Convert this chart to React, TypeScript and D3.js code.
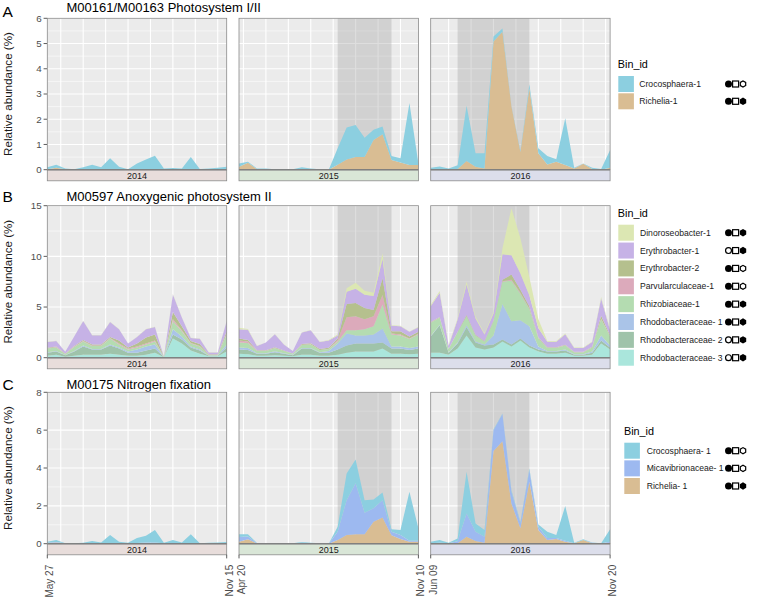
import React from "react";
import * as d3 from "d3";

// ---------- shared facet info ----------
const years = ["2014", "2015", "2016"];
const startDates = ["May 27", "Apr 20", "Jun 09"];
const endDates = ["Nov 15", "Nov 10", "Nov 20"];
const stripFills = ["#e8dddb", "#d9e6d7", "#dcdeeb"];
const shadeFrom: (number | null)[] = [null, 11, 3];
const shadeTo: (number | null)[] = [null, 17, 11];
const gridStart = [1.5, 0.5, 2];
const N = 21;

// ---------- Panel A: M00161/M00163 Photosystem I/II ----------
const photoBins = ["Crocosphaera-1", "Richelia-1"];
const photoSymbols = ["●□⬡", "●□⬢"];
const photoColors = ["#8ccfe0", "#d9bd93"];
const photoCrocosphaera = [
  [0.08, 0.12, 0.03, 0.02, 0.1, 0.2, 0.1, 0.45, 0.12, 0.02, 0.25, 0.4, 0.55, 0.05, 0.07, 0.05, 0.5, 0.03, 0.05, 0.08, 0.12],
  [0.13, 0.04, 0.03, 0.04, 0.02, 0.02, 0.02, 0.08, 0.04, 0.02, 0, 0.65, 1.27, 1.27, 0.77, 0.4, 0.31, 0.16, 0.16, 2.45, 0.06],
  [0.08, 0.13, 0.05, 0.15, 2.19, 0.53, 0.6, 0.2, 0.13, 0.02, 0.05, 0.16, 0.2, 0.33, 0.09, 1.85, 0.03, 0.01, 0.05, 0.03, 0.7],
];
const photoRichelia = [
  [0.02, 0.08, 0.02, 0, 0, 0, 0, 0, 0, 0, 0, 0, 0, 0, 0, 0, 0, 0, 0, 0, 0],
  [0.12, 0.28, 0.02, 0.01, 0, 0, 0, 0.02, 0.01, 0, 0, 0.2, 0.4, 0.5, 0.5, 1.18, 1.4, 0.38, 0.29, 0.19, 0.19],
  [0, 0, 0, 0.03, 0.34, 0.12, 0.05, 5.08, 5.47, 2.5, 0.7, 3.23, 0.65, 0.21, 0.32, 0.19, 0.05, 0.24, 0.03, 0, 0.08],
];

// ---------- Panel B: M00597 Anoxygenic photosystem II ----------
const anoxBins = [
  "Dinoroseobacter-1", "Erythrobacter-1", "Erythrobacter-2", "Parvularculaceae-1",
  "Rhizobiaceae-1", "Rhodobacteraceae- 1", "Rhodobacteraceae- 2", "Rhodobacteraceae- 3",
];
const anoxSymbols = ["●□⬢", "○□⬢", "●□⬡", "●□⬡", "●□⬢", "●□⬢", "○□⬢", "○□⬢"];
const anoxColors = ["#dce7b3", "#c6b2e6", "#b5c08e", "#dcaabb", "#b4dcb1", "#aac4e8", "#9fc3aa", "#aae6dc"];
const anoxDinoroseobacter1 = [
  [0.02, 0.02, 0.01, 0.02, 0.02, 0.02, 0.02, 0.02, 0.02, 0.02, 0.02, 0.03, 0.03, 0, 0.05, 0.03, 0.02, 0.02, 0.01, 0.01, 0.03],
  [0.15, 0.08, 0.02, 0.02, 0.02, 0.02, 0.01, 0.02, 0.02, 0.02, 0.04, 0.1, 0.35, 0.6, 0.4, 0.3, 0.56, 0.05, 0.05, 0.03, 0.05],
  [0.13, 0.15, 0.07, 0.13, 0.28, 0.18, 0.1, 0.17, 0.6, 4.64, 3.5, 1.8, 0.9, 0.08, 0.08, 0.08, 0.05, 0.05, 0.05, 0.15, 0.08],
];
const anoxErythrobacter1 = [
  [0.59, 0.56, 0.17, 0.93, 1.88, 0.92, 0.92, 1.48, 1.11, 0.39, 0.65, 0.8, 0.73, 0.01, 1.73, 0.87, 0.3, 0.53, 0.19, 0.19, 1.02],
  [0.9, 1.0, 0.43, 0.76, 1.28, 0.58, 0.24, 1.13, 1.28, 0.71, 0.72, 0.3, 1.2, 1.4, 1.3, 1.4, 1.91, 0.55, 0.5, 0.45, 0.45],
  [1.55, 2.4, 0.3, 1.2, 3.0, 1.6, 0.65, 0.7, 2.5, 1.9, 1.6, 1.1, 0.9, 0.55, 0.55, 1.05, 0.37, 0.37, 0.48, 1.7, 0.5],
];
const anoxErythrobacter2 = [
  [0.05, 0.05, 0.02, 0.05, 0.1, 0.1, 0.1, 0.1, 0.3, 0.1, 0.3, 0.6, 0.6, 0, 0.7, 0.4, 0.2, 0.2, 0.05, 0.05, 0.2],
  [0.2, 0.15, 0.05, 0.05, 0.08, 0.05, 0.02, 0.08, 0.1, 0.08, 0.1, 0.15, 1.3, 1.3, 1.1, 0.6, 1.65, 0.2, 0.3, 0.2, 0.2],
  [0.05, 0.05, 0.02, 0.05, 0.1, 0.05, 0.03, 0.05, 0.15, 0.5, 0.3, 0.2, 0.1, 0.05, 0.05, 0.05, 0.02, 0.02, 0.05, 0.3, 0.1],
];
const anoxParvularculaceae1 = [
  [0.02, 0.05, 0.02, 0.05, 0.05, 0.05, 0.05, 0.05, 0.1, 0.1, 0.1, 0.1, 0.1, 0, 0.2, 0.1, 0.05, 0.05, 0.01, 0.01, 0.1],
  [0.2, 0.15, 0.03, 0.03, 0.03, 0.02, 0.01, 0.02, 0.03, 0.02, 0.03, 0.15, 1.3, 1.4, 1.0, 1.0, 0.92, 0.1, 0.1, 0.05, 0.06],
  [0.02, 0.02, 0.01, 0.02, 0.02, 0.02, 0.02, 0.02, 0.05, 0.1, 0.1, 0.05, 0.02, 0.02, 0.02, 0.02, 0.01, 0.01, 0.02, 0.05, 0.02],
];
const anoxRhizobiaceae1 = [
  [0.35, 0.35, 0.1, 0.4, 0.4, 0.3, 0.3, 0.6, 0.3, 0.2, 0.2, 0.2, 0.3, 0.01, 0.8, 0.5, 0.3, 0.3, 0.05, 0.05, 1.0],
  [0.5, 0.5, 0.2, 0.2, 0.3, 0.2, 0.1, 0.3, 0.35, 0.2, 0.2, 0.2, 0.3, 0.5, 0.6, 0.8, 2.37, 1.2, 1.1, 0.9, 1.2],
  [1.3, 0.7, 0.3, 1.0, 0.9, 0.6, 0.3, 1.4, 2.2, 4.0, 2.6, 1.7, 0.8, 0.3, 0.3, 0.4, 0.2, 0.2, 0.4, 1.6, 0.9],
];
const anoxRhodobacteraceae1 = [
  [0.05, 0.05, 0.02, 0.05, 0.1, 0.05, 0.05, 0.1, 0.1, 0.1, 0.3, 0.4, 0.4, 0.01, 0.5, 0.3, 0.1, 0.1, 0.02, 0.02, 0.3],
  [0.2, 0.2, 0.05, 0.05, 0.08, 0.05, 0.03, 0.05, 0.05, 0.05, 0.15, 0.6, 1.2, 0.8, 0.8, 0.9, 1.38, 0.2, 0.2, 0.2, 0.2],
  [0.05, 0.05, 0.05, 0.1, 0.2, 0.1, 0.1, 0.9, 3.5, 2.3, 1.8, 1.9, 0.3, 0.05, 0.05, 0.1, 0.05, 0.05, 0.1, 0.5, 0.2],
];
const anoxRhodobacteraceae2 = [
  [0.3, 0.3, 0.15, 0.4, 0.8, 0.5, 0.5, 0.8, 0.6, 0.3, 0.3, 0.4, 0.4, 0.02, 0.4, 0.4, 0.3, 0.3, 0.05, 0.05, 0.4],
  [0.4, 0.4, 0.2, 0.2, 0.3, 0.2, 0.1, 0.6, 0.6, 0.3, 0.3, 0.5, 0.7, 0.8, 0.8, 0.8, 0.59, 0.5, 0.5, 0.4, 0.5],
  [1.6, 2.7, 0.2, 0.5, 0.8, 0.5, 0.4, 0.3, 0.2, 0.2, 0.2, 0.2, 0.2, 0.2, 0.2, 0.2, 0.1, 0.1, 0.2, 0.3, 0.2],
];
const anoxRhodobacteraceae3 = [
  [0.2, 0.3, 0.1, 0.2, 0.3, 0.3, 0.3, 0.4, 0.3, 0.2, 0.2, 0.3, 0.5, 0.05, 1.9, 1.4, 0.7, 0.4, 0.15, 0.15, 0.6],
  [0.4, 0.35, 0.2, 0.2, 0.25, 0.2, 0.15, 0.3, 0.3, 0.2, 0.2, 0.3, 0.5, 0.6, 0.6, 0.6, 0.92, 0.4, 0.4, 0.35, 0.4],
  [0.5, 0.5, 0.3, 0.9, 2.2, 1.0, 0.8, 1.0, 1.6, 1.1, 1.7, 1.0, 0.6, 0.4, 0.4, 0.5, 0.2, 0.2, 0.3, 1.4, 0.8],
];

// ---------- Panel C: M00175 Nitrogen fixation ----------
const nitroBins = ["Crocosphaera- 1", "Micavibrionaceae- 1", "Richelia- 1"];
const nitroSymbols = ["●□⬡", "●□⬡", "●□⬢"];
const nitroColors = ["#8ccfe0", "#9db9f0", "#d9bd93"];
const nitroCrocosphaera = [
  [0.05, 0.11, 0, 0.01, 0.03, 0.12, 0.05, 0.43, 0.07, 0.03, 0.26, 0.36, 0.66, 0.03, 0.16, 0.05, 0.47, 0.01, 0.03, 0.05, 0.07],
  [0.15, 0.12, 0.01, 0.01, 0.01, 0.01, 0.01, 0.04, 0.02, 0.01, 0, 0.27, 1.41, 1.26, 0.66, 0.47, 0.41, 0.13, 0.26, 2.59, 0.66],
  [0.07, 0.15, 0.03, 0.15, 2.2, 0.44, 0.35, 0.04, 0.03, 0.08, 0.06, 0.08, 0.12, 0.33, 0.16, 1.84, 0.02, 0.03, 0.02, 0.01, 0.66],
];
const nitroMicavibrionaceae = [
  [0.03, 0.03, 0.02, 0.01, 0.02, 0.02, 0.02, 0.03, 0.03, 0.02, 0.04, 0.06, 0.06, 0.02, 0.04, 0.02, 0.03, 0.01, 0.02, 0.02, 0.02],
  [0.25, 0.15, 0.02, 0.01, 0.01, 0.01, 0.01, 0.04, 0.03, 0.02, 0, 0.43, 1.84, 2.69, 1.14, 0.71, 0.91, 0.19, 0.21, 0.06, 0.05],
  [0.03, 0.03, 0.02, 0.1, 1.23, 0.49, 0.32, 1.1, 1.43, 0.62, 0.29, 0.63, 0.18, 0.11, 0.05, 0.05, 0.01, 0.01, 0.02, 0.02, 0.05],
];
const nitroRichelia = [
  [0.02, 0.06, 0.01, 0, 0, 0, 0, 0, 0, 0, 0, 0, 0, 0, 0, 0, 0, 0, 0, 0, 0],
  [0.1, 0.23, 0.01, 0, 0, 0, 0, 0.01, 0, 0, 0, 0.2, 0.46, 0.5, 0.5, 1.16, 1.39, 0.44, 0.25, 0.1, 0.1],
  [0, 0.02, 0, 0.03, 0.37, 0.14, 0.05, 4.9, 5.42, 2.13, 0.81, 3.27, 0.72, 0.19, 0.25, 0.1, 0.02, 0.19, 0.03, 0, 0.05],
];

// ---------- layout ----------
const FONT = "'Liberation Sans', Arial, Helvetica, sans-serif";
const PANEL_X = [47.3, 239, 430.7];
const PANEL_W = 179.4;
const STRIP_H = 10.6;

type RowProps = {
  letter: string;
  title: string;
  top: number;
  zero: number;
  yMax: number;
  yStep: number;
  bins: string[];
  symbols: string[];
  colors: string[];
  series: number[][][];
  showX: boolean;
  legend: { titleX: number; titleY: number; keyX: number; labelX: number; firstY: number; pitch: number };
  letterY: number;
  titleY: number;
};

function hexPoints(cx: number, cy: number, r: number) {
  return d3
    .range(6)
    .map((k) => {
      const a = (Math.PI / 3) * k + Math.PI / 6;
      return [cx + r * Math.cos(a), cy + r * Math.sin(a)].join(",");
    })
    .join(" ");
}

function Symbols({ s, cy }: { s: string; cy: number }) {
  const chars = Array.from(s);
  return (
    <g>
      {chars[0] === "●" ? (
        <circle cx={728.5} cy={cy} r={3.5} fill="#000" />
      ) : (
        <circle cx={728.5} cy={cy} r={2.95} fill="#fff" stroke="#000" strokeWidth={1.2} />
      )}
      <rect x={732.6} y={cy - 3.0} width={6.0} height={6.0} fill="#fff" stroke="#000" strokeWidth={1.2} />
      {chars[2] === "⬢" ? (
        <polygon points={hexPoints(743, cy, 3.7)} fill="#000" />
      ) : (
        <polygon points={hexPoints(743, cy, 3.1)} fill="#fff" stroke="#000" strokeWidth={1.2} />
      )}
    </g>
  );
}

function Row(p: RowProps) {
  const y = d3.scaleLinear().domain([0, p.yMax]).range([p.zero, p.top]);
  const majors = d3.range(0, p.yMax + 1e-9, p.yStep);
  const minors = d3.range(p.yStep / 2, p.yMax, p.yStep);
  const keys = [...p.bins].reverse();
  const colorOf = d3.scaleOrdinal<string, string>().domain(p.bins).range(p.colors);
  const midY = (p.top + p.zero) / 2;

  return (
    <g>
      <text x={2.5} y={p.letterY} fontSize={15.5} fontFamily={FONT} fill="#000">{p.letter}</text>
      <text x={66.5} y={p.titleY} fontSize={13} fontFamily={FONT} fill="#000">{p.title}</text>
      <text
        transform={`translate(11.6, ${midY}) rotate(-90)`}
        textAnchor="middle"
        fontSize={11.6}
        fontFamily={FONT}
        fill="#1a1a1a"
      >
        Relative abundance (%)
      </text>
      {majors.map((v) => (
        <g key={v}>
          <line x1={43.6} x2={PANEL_X[0]} y1={y(v)} y2={y(v)} stroke="#333" strokeWidth={0.8} />
          <text x={41.6} y={y(v)} dy="0.35em" textAnchor="end" fontSize={9.8} fontFamily={FONT} fill="#4d4d4d">
            {v}
          </text>
        </g>
      ))}
      {years.map((yr, pi) => {
        const x0 = PANEL_X[pi];
        const x = d3.scaleLinear().domain([0, N - 1]).range([x0, x0 + PANEL_W]);
        const rows = d3.range(N).map((i) => {
          const o: Record<string, number> = {};
          p.bins.forEach((b, k) => (o[b] = p.series[k][pi][i]));
          return o;
        });
        const stacked = d3.stack<Record<string, number>>().keys(keys)(rows);
        const area = d3
          .area<d3.SeriesPoint<Record<string, number>>>()
          .x((_d, i) => x(i))
          .y0((d) => y(d[0]))
          .y1((d) => y(d[1]));
        const vGrid = d3.range(gridStart[pi], N - 1 + 1e-9, 2.5);
        const sf = shadeFrom[pi];
        const st = shadeTo[pi];
        return (
          <g key={yr}>
            <rect x={x0} y={p.top} width={PANEL_W} height={p.zero - p.top} fill="#ebebeb" />
            {minors.map((v) => (
              <line key={"mi" + v} x1={x0} x2={x0 + PANEL_W} y1={y(v)} y2={y(v)} stroke="#fff" strokeWidth={0.55} />
            ))}
            {majors.map((v) => (
              <line key={"ma" + v} x1={x0} x2={x0 + PANEL_W} y1={y(v)} y2={y(v)} stroke="#fff" strokeWidth={1.1} />
            ))}
            {vGrid.map((v) => (
              <line key={"v" + v} x1={x(v)} x2={x(v)} y1={p.top} y2={p.zero} stroke="#fff" strokeWidth={1.1} />
            ))}
            {sf !== null && st !== null && (
              <rect x={x(sf)} y={p.top} width={x(st) - x(sf)} height={p.zero - p.top} fill="#a3a3a3" opacity={0.36} />
            )}
            {stacked.map((s) => (
              <path key={s.key} d={area(s) || ""} fill={colorOf(s.key)} />
            ))}
            <line x1={x0} x2={x0 + PANEL_W} y1={p.zero} y2={p.zero} stroke="#3f3f3f" strokeWidth={1.1} />
            <rect x={x0} y={p.top} width={PANEL_W} height={p.zero - p.top} fill="none" stroke="#8a8a8a" strokeWidth={0.8} />
            <rect x={x0} y={p.zero + 0.5} width={PANEL_W} height={STRIP_H} fill={stripFills[pi]} stroke="#8a8a8a" strokeWidth={0.8} />
            <text
              x={x0 + PANEL_W / 2}
              y={p.zero + 0.5 + STRIP_H / 2}
              dy="0.35em"
              textAnchor="middle"
              fontSize={9}
              fontFamily={FONT}
              fill="#1a1a1a"
            >
              {yr}
            </text>
            {p.showX &&
              [
                { v: 0, label: startDates[pi] },
                { v: N - 1, label: endDates[pi] },
              ].map((t) => (
                <g key={t.label}>
                  <line
                    x1={x(t.v)}
                    x2={x(t.v)}
                    y1={p.zero + 0.5 + STRIP_H}
                    y2={p.zero + 0.5 + STRIP_H + 3.6}
                    stroke="#333"
                    strokeWidth={0.8}
                  />
                  <text
                    transform={`translate(${x(t.v) + 2.5}, ${p.zero + STRIP_H + 10.5}) rotate(-90)`}
                    textAnchor="end"
                    dy="0.35em"
                    fontSize={10}
                    fontFamily={FONT}
                    fill="#4d4d4d"
                  >
                    {t.label}
                  </text>
                </g>
              ))}
          </g>
        );
      })}
      <text x={p.legend.titleX} y={p.legend.titleY} dy="0.35em" fontSize={10.8} fontFamily={FONT} fill="#000">
        Bin_id
      </text>
      {p.bins.map((b, k) => {
        const cy = p.legend.firstY + k * p.legend.pitch;
        return (
          <g key={b}>
            <rect x={p.legend.keyX} y={cy - 8} width={15.6} height={16} fill={colorOf(b)} />
            <text x={p.legend.labelX} y={cy} dy="0.35em" fontSize={8.6} fontFamily={FONT} fill="#1a1a1a">
              {b}
            </text>
            <Symbols s={p.symbols[k]} cy={cy} />
          </g>
        );
      })}
    </g>
  );
}

export default function App() {
  return (
    <svg
      width={757}
      height={602}
      viewBox="0 0 757 602"
      style={{ position: "absolute", left: 0, top: 0, background: "#fff" }}
    >
      <rect x={0} y={0} width={757} height={602} fill="#fff" />
      <Row
        letter="A"
        title="M00161/M00163 Photosystem I/II"
        top={18.3}
        zero={169.7}
        yMax={6}
        yStep={1}
        bins={photoBins}
        symbols={photoSymbols}
        colors={photoColors}
        series={[photoCrocosphaera, photoRichelia]}
        showX={false}
        legend={{ titleX: 617.8, titleY: 64, keyX: 618.3, labelX: 639.3, firstY: 84, pitch: 17.3 }}
        letterY={17}
        titleY={12}
      />
      <Row
        letter="B"
        title="M00597 Anoxygenic photosystem II"
        top={205.7}
        zero={357.7}
        yMax={15}
        yStep={5}
        bins={anoxBins}
        symbols={anoxSymbols}
        colors={anoxColors}
        series={[
          anoxDinoroseobacter1,
          anoxErythrobacter1,
          anoxErythrobacter2,
          anoxParvularculaceae1,
          anoxRhizobiaceae1,
          anoxRhodobacteraceae1,
          anoxRhodobacteraceae2,
          anoxRhodobacteraceae3,
        ]}
        showX={false}
        legend={{ titleX: 617.8, titleY: 213.3, keyX: 618.3, labelX: 640, firstY: 232.7, pitch: 17.86 }}
        letterY={201.7}
        titleY={200.5}
      />
      <Row
        letter="C"
        title="M00175 Nitrogen fixation"
        top={392.3}
        zero={543.7}
        yMax={8}
        yStep={2}
        bins={nitroBins}
        symbols={nitroSymbols}
        colors={nitroColors}
        series={[nitroCrocosphaera, nitroMicavibrionaceae, nitroRichelia]}
        showX={true}
        legend={{ titleX: 624, titleY: 431, keyX: 624.3, labelX: 646.7, firstY: 450.7, pitch: 17.65 }}
        letterY={390}
        titleY={388.5}
      />
    </svg>
  );
}
